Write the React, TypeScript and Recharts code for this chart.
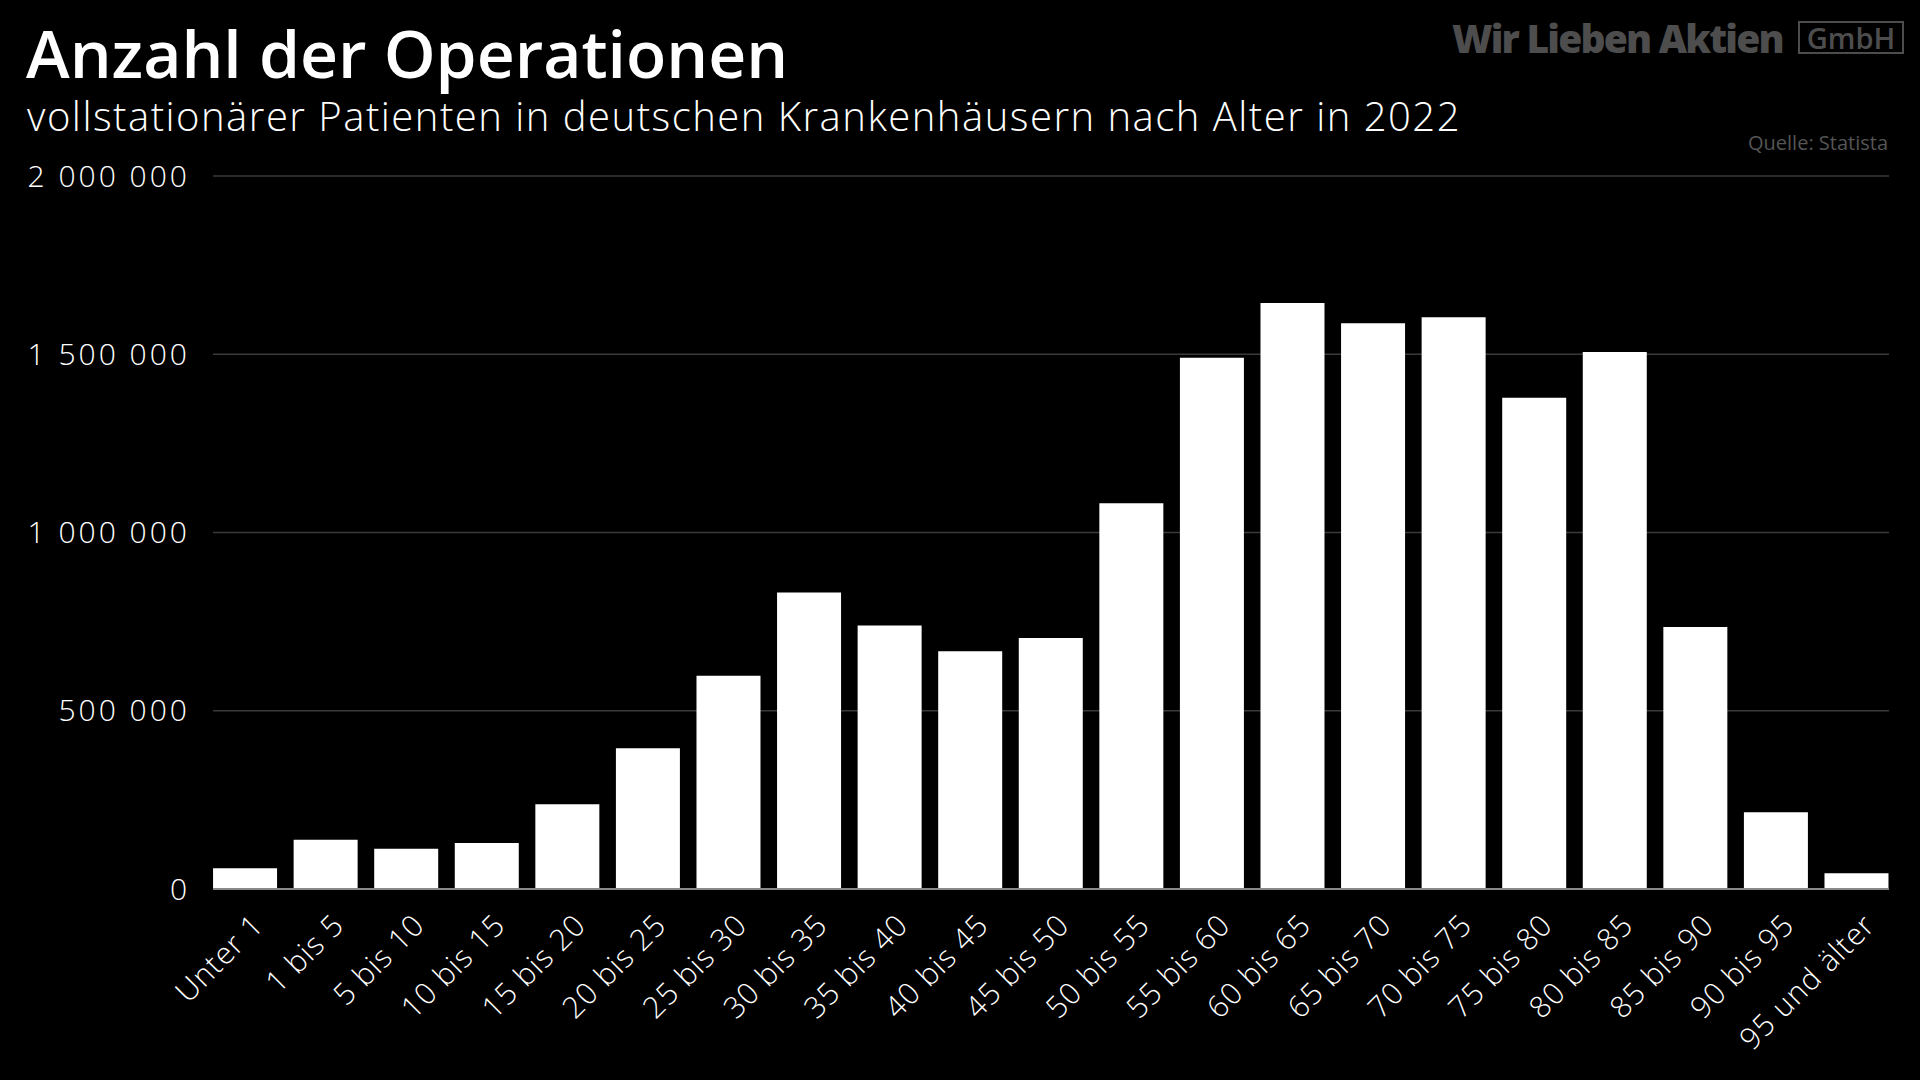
import React from "react";
import { BarChart, Bar, XAxis, YAxis, CartesianGrid } from "recharts";

const ageGroups = [
  "Unter 1", "1 bis 5", "5 bis 10", "10 bis 15", "15 bis 20", "20 bis 25", "25 bis 30",
  "30 bis 35", "35 bis 40", "40 bis 45", "45 bis 50", "50 bis 55", "55 bis 60", "60 bis 65",
  "65 bis 70", "70 bis 75", "75 bis 80", "80 bis 85", "85 bis 90", "90 bis 95", "95 und älter",
];

const operations = [
  58000, 138000, 113000, 129000, 238000, 395000, 598000,
  832000, 739000, 667000, 704000, 1082000, 1490000, 1644000,
  1587000, 1604000, 1378000, 1506000, 735000, 215000, 44000,
];

const yTicks = [0, 500000, 1000000, 1500000, 2000000];

const data = ageGroups.map((name, i) => ({ name, value: operations[i] }));

const FONT = "'Open Sans', sans-serif";

const fmt = (v: number) => v.toLocaleString("en-US").replace(/,/g, " ");

const AgeTick = ({ x, y, payload }: any) => (
  <g transform={`translate(${x + 20},${y + 36})`}>
    <text transform="rotate(-45)" textAnchor="end" fill="#fff" fontSize={30} fontFamily={FONT} fontWeight={300} letterSpacing={1}>
      {payload.value}
    </text>
  </g>
);

export default function App() {
  return (
    <div style={{ position: "absolute", left: 0, top: 0, width: 1920, height: 1080, background: "#000", fontFamily: FONT, overflow: "hidden" }}>
      <div style={{ position: "absolute", left: 26, top: 12, color: "#fff", fontSize: 66, lineHeight: "80px", fontWeight: 600 }}>
        Anzahl der Operationen
      </div>
      <div style={{ position: "absolute", left: 27, top: 92, color: "#fff", fontSize: 40, lineHeight: "48px", fontWeight: 300, letterSpacing: 1.5 }}>
        vollstationärer Patienten in deutschen Krankenhäusern nach Alter in 2022
      </div>
      <div style={{ position: "absolute", left: 1452, top: 14, color: "#4d4d4d", fontSize: 39, lineHeight: "48px", fontWeight: 800, letterSpacing: -1.8 }}>
        Wir Lieben Aktien
      </div>
      <div style={{ position: "absolute", left: 1798, top: 21, width: 102, height: 29, border: "2px solid #4d4d4d", color: "#4d4d4d", fontSize: 29, lineHeight: "29px", textAlign: "center", fontWeight: 600 }}>
        GmbH
      </div>
      <div style={{ position: "absolute", right: 32, top: 130, color: "#555", fontSize: 20, lineHeight: "26px" }}>
        Quelle: Statista
      </div>
      <div style={{ position: "absolute", left: 0, top: 0 }}>
        <BarChart width={1920} height={1080} data={data} margin={{ top: 176, right: 31, bottom: 0, left: 0 }} barCategoryGap="10%">
          <CartesianGrid vertical={false} stroke="#3a3a3a" strokeWidth={1.5} />
          <XAxis
            dataKey="name"
            interval={0}
            padding={{ left: -8, right: -8 }}
            tickLine={false}
            tickSize={0}
            axisLine={{ stroke: "#888", strokeWidth: 2 }}
            tick={<AgeTick />}
            height={191}
          />
          <YAxis
            width={213}
            domain={[0, 2000000]}
            ticks={yTicks}
            axisLine={false}
            tickLine={false}
            tickMargin={17}
            tickFormatter={fmt}
            tick={{ fill: "#fff", fontSize: 30, fontFamily: FONT, fontWeight: 300, letterSpacing: 3 }}
          />
          <Bar dataKey="value" fill="#fff" isAnimationActive={false} />
        </BarChart>
      </div>
    </div>
  );
}
